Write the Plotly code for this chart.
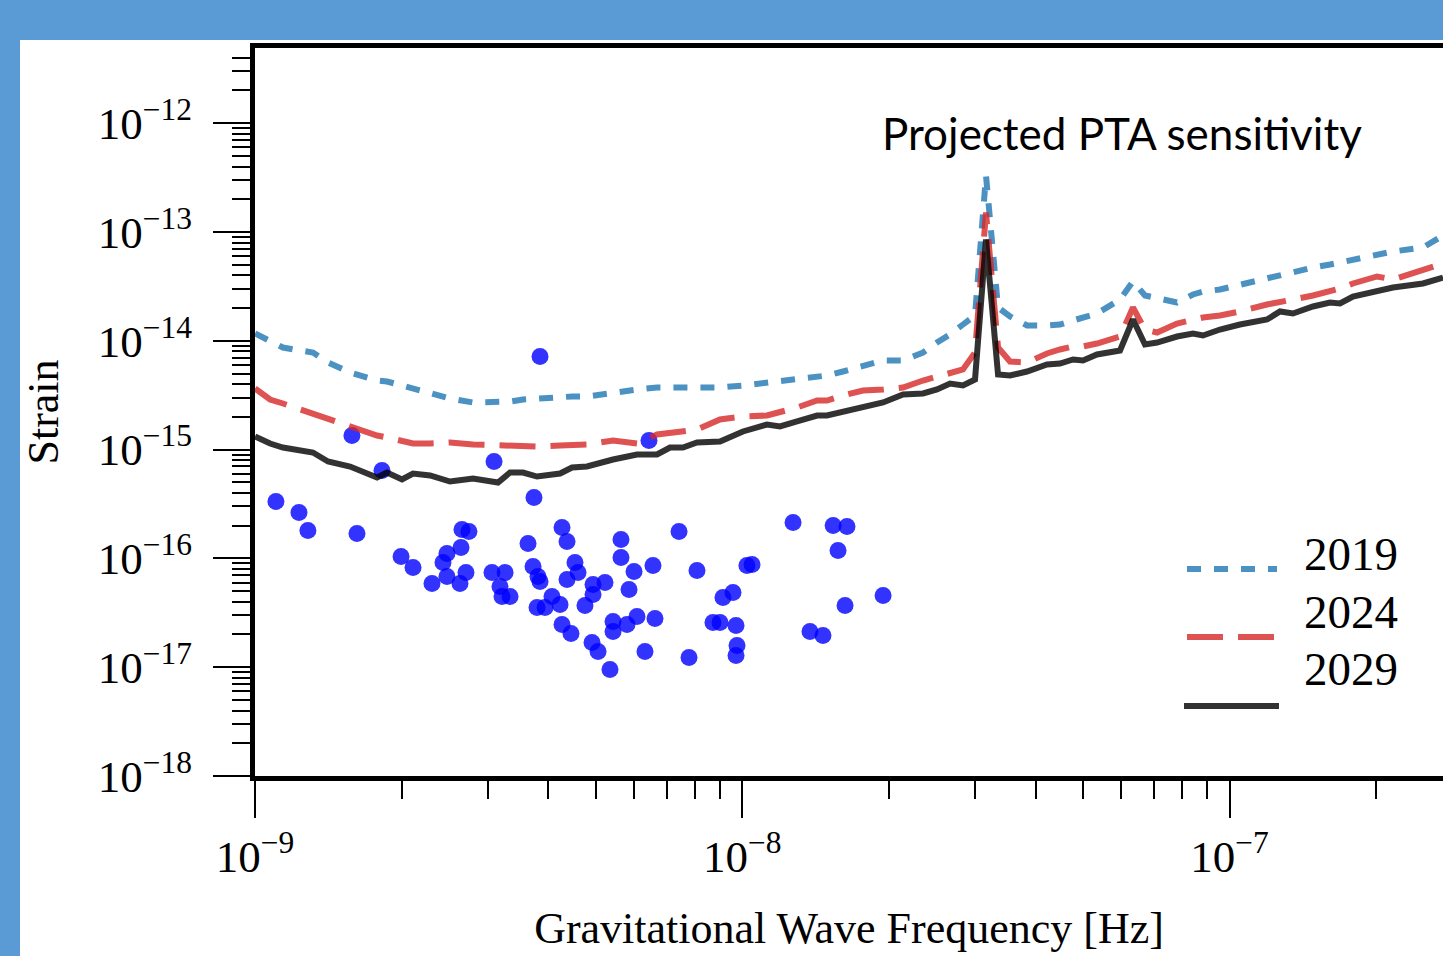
import plotly.graph_objects as go

# ---------------- data ----------------
freq_hz = [
    1.000e-9, 1.074e-9, 1.141e-9, 1.237e-9, 1.315e-9, 1.412e-9, 1.567e-9, 1.780e-9,
    1.866e-9, 2.003e-9, 2.110e-9, 2.287e-9, 2.513e-9, 2.802e-9, 3.153e-9, 3.337e-9,
    3.548e-9, 3.791e-9, 4.227e-9, 4.473e-9, 4.800e-9, 5.429e-9, 6.080e-9, 6.683e-9,
    7.107e-9, 7.555e-9, 8.073e-9, 9.000e-9, 1.003e-8, 1.124e-8, 1.195e-8, 1.295e-8,
    1.424e-8, 1.492e-8, 1.609e-8, 1.769e-8, 1.945e-8, 2.137e-8, 2.349e-8, 2.509e-8,
    2.669e-8, 2.837e-8, 3.003e-8, 3.163e-8, 3.348e-8, 3.543e-8, 3.839e-8, 4.220e-8,
    4.486e-8, 4.771e-8, 5.002e-8, 5.344e-8, 5.958e-8, 6.334e-8, 6.704e-8, 7.099e-8,
    7.800e-8, 8.411e-8, 8.818e-8, 9.556e-8, 1.050e-7, 1.193e-7, 1.269e-7, 1.349e-7,
    1.483e-7, 1.607e-7, 1.685e-7, 1.791e-7, 2.007e-7, 2.164e-7, 2.494e-7, 2.741e-7,
]

strain_2019 = [
    1.167e-14, 9.853e-15, 8.678e-15, 8.144e-15, 7.806e-15, 6.317e-15, 5.112e-15, 4.316e-15,
    4.226e-15, 3.882e-15, 3.644e-15, 3.278e-15, 2.949e-15, 2.710e-15, 2.710e-15, 2.767e-15,
    2.887e-15, 2.949e-15, 3.012e-15, 3.076e-15, 3.076e-15, 3.348e-15, 3.568e-15, 3.722e-15,
    3.722e-15, 3.722e-15, 3.722e-15, 3.722e-15, 3.882e-15, 4.137e-15, 4.226e-15, 4.503e-15,
    4.697e-15, 4.798e-15, 5.222e-15, 5.804e-15, 6.591e-15, 6.591e-15, 7.806e-15, 9.646e-15,
    1.143e-14, 1.412e-14, 1.708e-14, 3.306e-13, 2.024e-14, 1.673e-14, 1.382e-14, 1.382e-14,
    1.412e-14, 1.537e-14, 1.637e-14, 1.782e-14, 2.397e-14, 3.508e-14, 2.608e-14, 2.448e-14,
    2.249e-14, 2.664e-14, 2.839e-14, 2.962e-14, 3.292e-14, 3.818e-14, 4.069e-14, 4.336e-14,
    4.718e-14, 5.027e-14, 5.244e-14, 5.470e-14, 6.081e-14, 6.619e-14, 7.204e-14, 9.286e-14,
]

strain_2024 = [
    3.644e-15, 2.887e-15, 2.653e-15, 2.337e-15, 2.147e-15, 1.891e-15, 1.597e-15, 1.348e-15,
    1.292e-15, 1.212e-15, 1.138e-15, 1.138e-15, 1.162e-15, 1.114e-15, 1.091e-15, 1.114e-15,
    1.068e-15, 1.068e-15, 1.091e-15, 1.114e-15, 1.114e-15, 1.212e-15, 1.138e-15, 1.376e-15,
    1.436e-15, 1.467e-15, 1.530e-15, 1.891e-15, 2.015e-15, 2.058e-15, 2.193e-15, 2.438e-15,
    2.827e-15, 2.827e-15, 3.142e-15, 3.493e-15, 3.568e-15, 3.722e-15, 4.316e-15, 4.697e-15,
    5.006e-15, 5.447e-15, 7.806e-15, 1.511e-13, 8.678e-15, 6.452e-15, 6.317e-15, 7.643e-15,
    8.318e-15, 8.864e-15, 8.864e-15, 9.444e-15, 1.095e-14, 2.024e-14, 1.270e-14, 1.192e-14,
    1.442e-14, 1.570e-14, 1.637e-14, 1.708e-14, 1.859e-14, 2.156e-14, 2.297e-14, 2.397e-14,
    2.608e-14, 2.839e-14, 3.025e-14, 3.363e-14, 3.900e-14, 3.660e-14, 4.429e-14, 5.134e-14,
]

strain_2029 = [
    1.319e-15, 1.138e-15, 1.045e-15, 9.811e-16, 9.405e-16, 7.774e-16, 6.993e-16, 5.540e-16,
    6.159e-16, 5.311e-16, 6.030e-16, 5.780e-16, 5.091e-16, 5.424e-16, 4.984e-16, 6.159e-16,
    6.159e-16, 5.658e-16, 6.030e-16, 6.847e-16, 6.993e-16, 8.110e-16, 9.015e-16, 9.015e-16,
    1.045e-15, 1.045e-15, 1.162e-15, 1.187e-15, 1.467e-15, 1.701e-15, 1.631e-15, 1.813e-15,
    2.058e-15, 2.058e-15, 2.239e-15, 2.490e-15, 2.710e-15, 3.209e-15, 3.278e-15, 3.568e-15,
    4.050e-15, 3.882e-15, 4.409e-15, 8.532e-14, 4.901e-15, 4.798e-15, 5.222e-15, 6.055e-15,
    6.185e-15, 6.731e-15, 6.591e-15, 7.483e-15, 8.144e-15, 1.570e-14, 9.247e-15, 9.646e-15,
    1.095e-14, 1.167e-14, 1.119e-14, 1.270e-14, 1.412e-14, 1.570e-14, 1.859e-14, 1.782e-14,
    2.067e-14, 2.249e-14, 2.202e-14, 2.554e-14, 2.839e-14, 3.090e-14, 3.363e-14, 3.818e-14,
]

source_freq_hz = [
    1.104e-9, 1.231e-9, 1.284e-9, 1.619e-9, 1.994e-9, 2.110e-9, 2.308e-9, 2.477e-9,
    2.431e-9, 2.477e-9, 2.647e-9, 2.659e-9, 2.748e-9, 2.710e-9, 2.634e-9, 3.064e-9,
    3.260e-9, 3.182e-9, 3.213e-9, 3.337e-9, 3.633e-9, 3.737e-9, 3.720e-9, 3.808e-9,
    3.845e-9, 3.791e-9, 3.937e-9, 4.069e-9, 4.226e-9, 4.266e-9, 4.368e-9, 4.266e-9,
    4.451e-9, 4.536e-9, 4.601e-9, 4.368e-9, 4.939e-9, 4.939e-9, 4.755e-9, 5.227e-9,
    4.916e-9, 5.058e-9, 5.351e-9, 5.429e-9, 5.429e-9, 5.799e-9, 6.080e-9, 5.637e-9,
    5.637e-9, 5.995e-9, 5.855e-9, 6.314e-9, 6.557e-9, 7.416e-9, 8.073e-9, 1.047e-8,
    1.022e-8, 1.271e-8, 1.536e-8, 1.640e-8, 1.572e-8, 1.945e-8, 1.625e-8, 1.377e-8,
    1.464e-8, 9.127e-9, 9.570e-9, 8.706e-9, 9.000e-9, 9.707e-9, 9.753e-9, 9.707e-9,
    7.774e-9, 6.620e-9, 1.581e-9, 1.822e-9, 3.094e-9, 3.845e-9, 6.434e-9,
]

source_strain = [
    3.334e-16, 2.642e-16, 1.805e-16, 1.694e-16, 1.041e-16, 8.249e-17, 5.879e-17, 1.109e-16,
    9.169e-17, 6.818e-17, 1.259e-16, 1.844e-16, 1.767e-16, 7.420e-17, 5.879e-17, 7.420e-17,
    7.420e-17, 5.517e-17, 4.465e-17, 4.465e-17, 1.371e-16, 3.629e-16, 8.425e-17, 6.818e-17,
    6.134e-17, 3.538e-17, 3.538e-17, 4.465e-17, 3.770e-17, 1.923e-16, 1.430e-16, 2.469e-17,
    2.040e-17, 9.169e-17, 7.420e-17, 6.400e-17, 5.756e-17, 4.658e-17, 3.691e-17, 6.005e-17,
    1.687e-17, 1.394e-17, 9.525e-18, 2.631e-17, 2.129e-17, 2.469e-17, 2.924e-17, 1.492e-16,
    1.019e-16, 7.579e-17, 5.178e-17, 1.394e-17, 8.605e-17, 1.767e-16, 7.741e-17, 8.789e-17,
    8.605e-17, 2.138e-16, 2.006e-16, 1.964e-16, 1.182e-16, 4.561e-17, 3.691e-17, 2.129e-17,
    1.956e-17, 4.372e-17, 4.860e-17, 2.575e-17, 2.575e-17, 2.417e-17, 1.583e-17, 1.281e-17,
    1.228e-17, 2.803e-17, 1.348e-15, 6.427e-16, 7.774e-16, 7.173e-15, 1.212e-15,
]

series_names = ["2019", "2024", "2029"]

x_tick_vals = [1e-9, 1e-8, 1e-7]
x_tick_labels = ["10<sup>\u22129</sup>", "10<sup>\u22128</sup>", "10<sup>\u22127</sup>"]
y_tick_vals = [1e-18, 1e-17, 1e-16, 1e-15, 1e-14, 1e-13, 1e-12]
y_tick_labels = ["10<sup>\u221218</sup>", "10<sup>\u221217</sup>", "10<sup>\u221216</sup>",
                 "10<sup>\u221215</sup>", "10<sup>\u221214</sup>", "10<sup>\u221213</sup>",
                 "10<sup>\u221212</sup>"]

x_minor_vals = [m * 10.0 ** e for e in (-9, -8, -7) for m in range(2, 10)]
y_minor_vals = [m * 10.0 ** e for e in range(-18, -11) for m in range(2, 10)]

# ---------------- styling ----------------
SERIF = "Liberation Serif, Times New Roman, serif"
colors = {"2019": "#1f77b4", "2024": "#d62728", "2029": "#000000"}
dashes = {"2019": "14px,13px", "2024": "36px,15px", "2029": "solid"}
strains = {"2019": strain_2019, "2024": strain_2024, "2029": strain_2029}

fig = go.Figure()

fig.add_trace(go.Scatter(
    x=source_freq_hz, y=source_strain, mode="markers", name="sources",
    marker=dict(color="#0000ff", size=17, opacity=0.8, line=dict(width=0)),
    showlegend=False,
))

for name in series_names:
    fig.add_trace(go.Scatter(
        x=freq_hz, y=strains[name], mode="lines", name=name,
        line=dict(color=colors[name], width=6, dash=dashes[name]),
        opacity=0.8, showlegend=False,
    ))

# ---------------- layout ----------------
L, R, T, B = 255, 0, 48, 180
W, H = 1443, 956
pw, ph = W - L - R, H - T - B


def px_x(px):
    return (px - L) / pw


def px_y(py):
    return (H - B - py) / ph


shapes = [
    # white slide panel behind the chart
    dict(type="rect", xref="paper", yref="paper", layer="below",
         x0=px_x(20), x1=px_x(1500), y0=px_y(1000), y1=px_y(40),
         fillcolor="white", line=dict(width=0)),
]
legend_rows = [
    ("2019", 1187, 1277, 569, 553.5),
    ("2024", 1187, 1274, 637, 611.5),
    ("2029", 1184, 1279, 706, 668.5),
]
annotations = []
for name, x0, x1, ly, ty in legend_rows:
    shapes.append(dict(type="line", xref="paper", yref="paper",
                       x0=px_x(x0), x1=px_x(x1), y0=px_y(ly), y1=px_y(ly),
                       opacity=0.8,
                       line=dict(color=colors[name], width=6, dash=dashes[name])))
    annotations.append(dict(text=name, xref="paper", yref="paper",
                            x=px_x(1351), y=px_y(ty), xanchor="center", yanchor="middle",
                            showarrow=False, font=dict(family=SERIF, size=47, color="black")))

annotations.append(dict(text="Projected PTA sensitivity", xref="paper", yref="paper",
                        x=px_x(1122), y=px_y(133), xanchor="center", yanchor="middle",
                        showarrow=False, font=dict(family="Lato, Calibri, sans-serif", size=44,
                                                   color="black")))

axis_common = dict(
    type="log", showgrid=False, zeroline=False,
    showline=True, linecolor="black", linewidth=5,
    ticks="outside", ticklen=37, tickwidth=2, tickcolor="black",
    tickfont=dict(family=SERIF, size=45, color="black"),
    tickmode="array",
)

fig.update_layout(
    width=W, height=H,
    margin=dict(l=L, r=R, t=T, b=B, pad=0),
    paper_bgcolor="#5b9bd5", plot_bgcolor="white",
    showlegend=False,
    shapes=shapes, annotations=annotations,
    xaxis=dict(
        **axis_common,
        range=[-9, -9 + pw / 487.3],
        tickvals=x_tick_vals, ticktext=x_tick_labels,
        minor=dict(tickmode="array", tickvals=x_minor_vals, ticks="outside",
                   ticklen=18, tickwidth=2, tickcolor="black", showgrid=False),
        mirror=True,
        title=dict(text="Gravitational Wave Frequency [Hz]",
                   font=dict(family=SERIF, size=44, color="black"), standoff=33),
        automargin=False,
    ),
    yaxis=dict(
        **axis_common,
        range=[-18, -18 + ph / 108.8],
        tickvals=y_tick_vals, ticktext=y_tick_labels,
        ticklabelstandoff=12,
        minor=dict(tickmode="array", tickvals=y_minor_vals, ticks="outside",
                   ticklen=18, tickwidth=2, tickcolor="black", showgrid=False),
        mirror=False,
        title=dict(text="Strain", font=dict(family=SERIF, size=44, color="black"),
                   standoff=27),
        automargin=False,
    ),
)

fig.write_html("out.html", config={"displayModeBar": False},
               post_script="document.body.style.margin='0px';")
